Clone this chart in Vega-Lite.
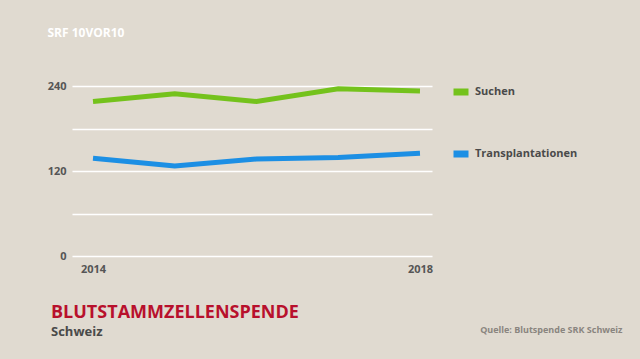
{
  "$schema": "https://vega.github.io/schema/vega-lite/v6.json",
  "width": 360,
  "height": 170,
  "autosize": "none",
  "padding": {"left": 72, "top": 86, "right": 208, "bottom": 103},
  "background": "#e0dad0",
  "config": {
    "view": {"stroke": null},
    "font": "Open Sans"
  },
  "title": {
    "text": "BLUTSTAMMZELLENSPENDE",
    "subtitle": "Schweiz",
    "orient": "bottom",
    "anchor": "start",
    "frame": "group",
    "dx": -21,
    "offset": -30,
    "font": "Open Sans",
    "fontSize": 18,
    "fontWeight": "bold",
    "color": "#b8102c",
    "subtitleFont": "Open Sans",
    "subtitleFontSize": 13,
    "subtitleFontWeight": "bold",
    "subtitleColor": "#4a4a4a",
    "subtitlePadding": 4
  },
  "data": {
    "values": [
      {"year": 2014, "series": "Suchen", "value": 218},
      {"year": 2015, "series": "Suchen", "value": 229},
      {"year": 2016, "series": "Suchen", "value": 218},
      {"year": 2017, "series": "Suchen", "value": 236},
      {"year": 2018, "series": "Suchen", "value": 233},
      {"year": 2014, "series": "Transplantationen", "value": 138},
      {"year": 2015, "series": "Transplantationen", "value": 127},
      {"year": 2016, "series": "Transplantationen", "value": 137},
      {"year": 2017, "series": "Transplantationen", "value": 139},
      {"year": 2018, "series": "Transplantationen", "value": 145}
    ]
  },
  "mark": {"type": "line", "strokeWidth": 5, "strokeCap": "butt", "strokeJoin": "miter"},
  "encoding": {
    "x": {
      "field": "year",
      "type": "quantitative",
      "scale": {"domain": [2013.743, 2018.147], "nice": false, "zero": false},
      "axis": {
        "values": [2014, 2018],
        "format": "d",
        "grid": false,
        "domain": false,
        "ticks": false,
        "labelPadding": 7,
        "labelFont": "Open Sans",
        "labelFontSize": 11,
        "labelFontWeight": "bold",
        "labelColor": "#555555",
        "title": "Quelle: Blutspende SRK Schweiz",
        "titleX": 550,
        "titleY": 73,
        "titleAlign": "right",
        "titleBaseline": "middle",
        "titleFont": "Open Sans",
        "titleFontSize": 9,
        "titleFontWeight": "bold",
        "titleColor": "#8a857f"
      }
    },
    "y": {
      "field": "value",
      "type": "quantitative",
      "scale": {"domain": [0, 240], "nice": false},
      "axis": {
        "values": [0, 60, 120, 180, 240],
        "labelExpr": "datum.value % 120 == 0 ? datum.label : ''",
        "grid": true,
        "gridColor": "#ffffff",
        "gridWidth": 1.5,
        "gridOpacity": 1,
        "domain": false,
        "ticks": false,
        "labelPadding": 6,
        "labelFont": "Open Sans",
        "labelFontSize": 11,
        "labelFontWeight": "bold",
        "labelColor": "#555555",
        "title": "SRF 10VOR10",
        "titleAngle": 0,
        "titleX": -25,
        "titleY": -54,
        "titleAlign": "left",
        "titleBaseline": "middle",
        "titleFont": "Open Sans",
        "titleFontSize": 12,
        "titleFontWeight": "bold",
        "titleColor": "#ffffff"
      }
    },
    "color": {
      "field": "series",
      "type": "nominal",
      "scale": {"domain": ["Suchen", "Transplantationen"], "range": ["#74c21c", "#1c8fe4"]},
      "legend": {
        "orient": "none",
        "legendX": 378,
        "legendY": -5,
        "title": null,
        "symbolType": "stroke",
        "symbolSize": 225,
        "symbolStrokeWidth": 7,
        "rowPadding": 34,
        "labelOffset": 3,
        "labelFont": "Open Sans",
        "labelFontSize": 11,
        "labelFontWeight": "bold",
        "labelColor": "#4a4a4a"
      }
    }
  }
}
